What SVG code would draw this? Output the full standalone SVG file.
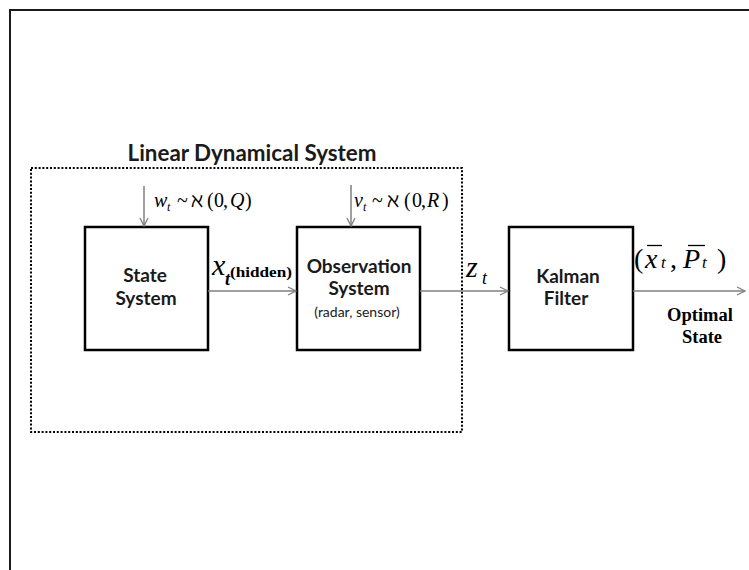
<svg xmlns="http://www.w3.org/2000/svg" width="749" height="570" viewBox="0 0 749 570">
<defs>
<marker id="arr" markerUnits="userSpaceOnUse" markerWidth="12" markerHeight="12" refX="9" refY="5" orient="auto">
<path d="M1,1 L9,5 L1,9" fill="none" stroke="#7f7f7f" stroke-width="1.3"/>
</marker>
<style>
.box{fill:#fff;stroke:#000;stroke-width:2.5}
.lbl{font-family:Lato,"Liberation Sans",Arial,sans-serif;font-weight:bold;font-size:19px;fill:#1a1a1a;text-anchor:middle}
.sm{font-family:Lato,"Liberation Sans",Arial,sans-serif;font-size:14px;fill:#1a1a1a;text-anchor:middle}
.m{font-family:"Liberation Serif","DejaVu Serif",serif;fill:#000}
.i{font-style:italic}
.conn{stroke:#7f7f7f;stroke-width:1.5;fill:none;marker-end:url(#arr)}
</style>
</defs>
<rect width="749" height="570" fill="#fff"/>
<g id="frame">
<path d="M10,570 L10,10 L749,10" fill="none" stroke="#1a1a1a" stroke-width="2"/>
</g>
<g id="lds">
<rect x="31" y="168" width="431" height="264" fill="none" stroke="#000" stroke-width="2" stroke-dasharray="2 1.8"/>
<text x="252" y="161" font-family="Lato,'Liberation Sans',Arial,sans-serif" font-weight="bold" font-size="22" fill="#1a1a1a" text-anchor="middle" textLength="249" lengthAdjust="spacingAndGlyphs">Linear Dynamical System</text>
</g>
<g id="state">
<rect class="box" x="85" y="227" width="123" height="123"/>
<text class="lbl" x="145" y="282">State</text>
<text class="lbl" x="146" y="305">System</text>
</g>
<g id="observation">
<rect class="box" x="297" y="227" width="123" height="123"/>
<text class="lbl" x="359" y="273">Observation</text>
<text class="lbl" x="359" y="295">System</text>
<text class="sm" x="357" y="317">(radar, sensor)</text>
</g>
<g id="kalman">
<rect class="box" x="509" y="227" width="124" height="123"/>
<text class="lbl" x="568" y="283">Kalman</text>
<text class="lbl" x="566" y="305">Filter</text>
</g>
<g id="connectors">
<line class="conn" x1="144" y1="186" x2="144" y2="226"/>
<line class="conn" x1="351" y1="185" x2="351" y2="226"/>
<line class="conn" x1="208" y1="291" x2="296" y2="291"/>
<line class="conn" x1="420" y1="291" x2="508" y2="291"/>
<line class="conn" x1="633" y1="291" x2="745" y2="291"/>
</g>
<g id="labels">
<text class="m" font-size="20" y="207"><tspan class="i" x="154">w</tspan><tspan class="i" x="167" y="211" font-size="12">t</tspan><tspan x="177" y="207">~</tspan><tspan x="191">ℵ</tspan><tspan x="207">(</tspan><tspan x="214">0</tspan><tspan x="223">,</tspan><tspan class="i" x="230">Q</tspan><tspan x="245">)</tspan></text>
<text class="m" font-size="20" y="207"><tspan class="i" x="354">v</tspan><tspan class="i" x="363" y="211" font-size="12">t</tspan><tspan x="372" y="207">~</tspan><tspan x="387">ℵ</tspan><tspan x="404">(</tspan><tspan x="412">0</tspan><tspan x="421">,</tspan><tspan class="i" x="427">R</tspan><tspan x="442">)</tspan></text>
<text class="m i" font-size="30" x="212" y="275">x</text>
<text class="m i" font-size="18" font-weight="bold" x="225" y="285">t</text>
<text class="m" font-size="15" font-weight="bold" x="230" y="277" textLength="62" lengthAdjust="spacingAndGlyphs">(hidden)</text>
<text class="m i" font-size="30" x="466" y="277">z</text>
<text class="m i" font-size="18" x="482" y="284">t</text>
<text class="m" font-size="28" y="268"><tspan x="634">(</tspan><tspan class="i" x="645">x</tspan><tspan class="i" x="661" font-size="17">t</tspan><tspan x="670">,</tspan><tspan class="i" x="683">P</tspan><tspan class="i" x="702" font-size="17">t</tspan><tspan x="717">)</tspan></text>
<line x1="647" y1="245.5" x2="662" y2="245.5" stroke="#000" stroke-width="1.3"/>
<line x1="688" y1="245.5" x2="705" y2="245.5" stroke="#000" stroke-width="1.3"/>
<text class="m" font-size="18.5" font-weight="bold" text-anchor="middle" x="700" y="321">Optimal</text>
<text class="m" font-size="18.5" font-weight="bold" text-anchor="middle" x="702" y="343">State</text>
</g>
</svg>
